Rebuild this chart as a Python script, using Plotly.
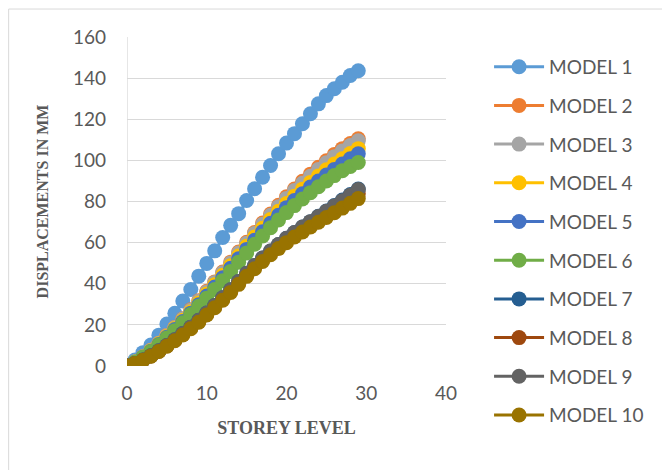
import plotly.graph_objects as go

storey = list(range(30))

model_names = ["MODEL 1", "MODEL 2", "MODEL 3", "MODEL 4", "MODEL 5",
               "MODEL 6", "MODEL 7", "MODEL 8", "MODEL 9", "MODEL 10"]

model1 = [0, 2.9, 6.5, 10.2, 15.0, 20.4, 25.6, 31.6, 37.2, 43.7, 49.9, 56.0, 62.5, 68.4, 74.1,
          80.5, 86.2, 91.8, 97.5, 103.2, 108.4, 113.0, 117.8, 122.7, 127.5, 131.5, 134.8, 138.0, 141.3, 143.6]
model2 = [0, 1.9, 4.5, 7.6, 11.1, 14.9, 18.8, 23.0, 27.3, 31.7, 36.3, 40.9, 45.7, 50.5, 55.4,
          60.2, 64.9, 69.5, 73.9, 78.2, 82.3, 86.1, 89.8, 93.3, 96.6, 99.8, 102.9, 105.7, 108.2, 110.5]
model3 = [0, 1.9, 4.5, 7.6, 11.1, 14.8, 18.7, 22.8, 27.1, 31.5, 36.0, 40.6, 45.3, 50.1, 54.9,
          59.7, 64.4, 68.9, 73.3, 77.5, 81.5, 85.3, 88.9, 92.3, 95.6, 98.8, 101.8, 104.6, 107.2, 109.5]
model4 = [0, 1.9, 4.4, 7.4, 10.8, 14.4, 18.2, 22.2, 26.4, 30.6, 35.0, 39.5, 44.1, 48.8, 53.5,
          58.2, 62.7, 67.0, 71.2, 75.2, 79.0, 82.6, 86.0, 89.3, 92.4, 95.4, 98.2, 100.8, 103.3, 105.7]
model5 = [0, 1.8, 4.3, 7.2, 10.5, 14.0, 17.7, 21.6, 25.7, 29.8, 34.0, 38.4, 42.9, 47.5, 52.1,
          56.7, 61.1, 65.3, 69.4, 73.3, 77.0, 80.5, 83.8, 87.0, 90.0, 92.9, 95.6, 98.2, 100.8, 103.2]
model6 = [0, 1.8, 4.2, 7.0, 10.2, 13.6, 17.2, 21.0, 25.0, 29.0, 33.0, 37.2, 41.5, 46.0, 50.5,
          55.0, 59.2, 63.2, 67.2, 71.0, 74.6, 78.0, 81.2, 84.3, 87.2, 90.0, 92.6, 95.0, 97.0, 99.0]
model7 = [0, 1.2, 2.9, 5.0, 7.4, 10.0, 12.8, 15.8, 18.9, 22.2, 25.8, 29.4, 33.2, 37.1, 41.1,
          45.1, 48.9, 52.5, 55.9, 59.1, 62.1, 64.9, 67.6, 70.2, 72.8, 75.4, 78.0, 80.7, 83.4, 86.1]
model8 = [0, 1.2, 2.8, 4.9, 7.2, 9.8, 12.5, 15.4, 18.5, 21.7, 25.2, 28.8, 32.5, 36.4, 40.3,
          44.2, 47.9, 51.4, 54.8, 57.9, 60.8, 63.6, 66.2, 68.7, 71.1, 73.6, 76.1, 78.6, 81.2, 83.8]
model9 = [0, 1.2, 2.9, 5.0, 7.4, 10.0, 12.8, 15.8, 18.9, 22.2, 25.8, 29.4, 33.2, 37.1, 41.1,
          45.1, 48.9, 52.5, 55.9, 59.1, 62.1, 64.9, 67.6, 70.2, 72.7, 75.2, 77.8, 80.4, 83.1, 85.8]
model10 = [0, 1.2, 2.8, 4.8, 7.1, 9.6, 12.3, 15.1, 18.1, 21.3, 24.8, 28.3, 32.0, 35.8, 39.7,
           43.6, 47.3, 50.8, 54.1, 57.1, 60.0, 62.7, 65.2, 67.6, 69.9, 72.2, 74.5, 76.8, 79.1, 81.4]

series = [model1, model2, model3, model4, model5, model6, model7, model8, model9, model10]
colors = ["#5B9BD5", "#ED7D31", "#A5A5A5", "#FFC000", "#4472C4",
          "#70AD47", "#255E91", "#9E480E", "#636363", "#997300"]

x_ticks = [0, 10, 20, 30, 40]
y_ticks = [0, 20, 40, 60, 80, 100, 120, 140, 160]

fig = go.Figure()
for name, vals, col in zip(model_names, series, colors):
    fig.add_trace(go.Scatter(
        x=storey, y=vals, name=name, mode="lines+markers",
        line=dict(color=col, width=3),
        marker=dict(color=col, size=15),
        legendgroup=name,
    ))

tick_font = dict(family="Lato, Carlito, Liberation Sans, sans-serif", size=19, color="#595959")
ytitle_font = dict(family="Liberation Serif, serif", size=16, color="#595959")
xtitle_font = dict(family="Liberation Serif, serif", size=18, color="#595959")

fig.update_layout(
    width=670, height=470,
    paper_bgcolor="white", plot_bgcolor="white",
    margin=dict(l=119, r=232, t=29, b=112, autoexpand=False),
    showlegend=True,
    legend=dict(
        x=1.135, xanchor="left", y=0.967, yanchor="top",
        font=dict(family="Lato, Carlito, Liberation Sans, sans-serif", size=19, color="#595959"),
        tracegroupgap=11, itemwidth=50, maxheight=460,
        bgcolor="rgba(0,0,0,0)",
    ),
    xaxis=dict(
        range=[0, 40], tickvals=x_ticks, showgrid=False, zeroline=False,
        showline=False, ticks="", tickfont=tick_font, ticklabelstandoff=14,
        title=dict(text="<b>STOREY LEVEL</b>", font=xtitle_font, standoff=18),
    ),
    yaxis=dict(
        range=[0, 160], tickvals=y_ticks, showgrid=True, gridcolor="#D9D9D9", gridwidth=1.3,
        zeroline=False, showline=False, ticks="", tickfont=tick_font, ticklabelstandoff=20,
        title=dict(text="<b>DISPLACEMENTS IN MM</b>", font=ytitle_font, standoff=20),
    ),
    shapes=[
        dict(type="line", xref="x", yref="y", x0=0, x1=0, y0=0, y1=160,
             line=dict(color="#D9D9D9", width=1.3), layer="below"),
        dict(type="line", xref="paper", yref="paper", x0=-0.371, x1=1.75, y0=1.085, y1=1.085,
             line=dict(color="#D9D9D9", width=1)),
        dict(type="line", xref="paper", yref="paper", x0=-0.371, x1=-0.371, y0=-0.35, y1=1.085,
             line=dict(color="#D9D9D9", width=1)),
    ],
)

fig.write_html("out.html")
